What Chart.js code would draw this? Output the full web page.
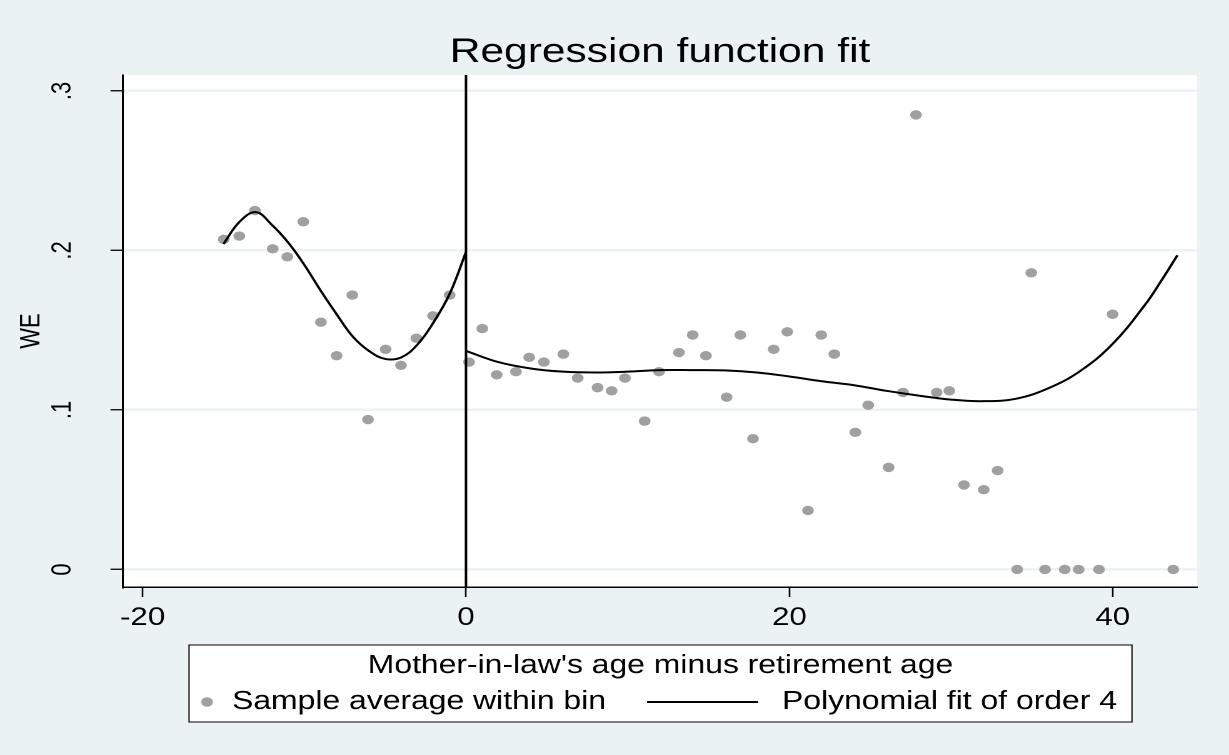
<!DOCTYPE html>
<html>
<head>
<meta charset="utf-8">
<title>Regression function fit</title>
<script src="https://cdn.jsdelivr.net/npm/chart.js@4.4.1/dist/chart.umd.min.js"></script>
<style>
  html, body { margin: 0; padding: 0; background: #eaf2f3; overflow: hidden; }
  /* the original graph is stretched sideways, so draw narrow and widen it */
  #wrap { width: 983px; height: 755px; transform: scaleX(1.250254); transform-origin: 0 0; }
</style>
</head>
<body>
<div id="wrap"><canvas id="rdChart" width="983" height="755"></canvas></div>
<script>
// bin averages (x = bin centre, y = WE)
const binX = [-14.98, -14.02, -13.05, -11.95, -11.05, -10.06, -8.97, -8.0, -7.03, -6.06, -4.97, -4.02, -3.07, -2.04, -1.01,
  0.19, 1.01, 1.9, 3.09, 3.91, 4.82, 6.02, 6.91, 8.14, 9.01, 9.83, 11.05, 11.94, 13.17, 14.02, 14.84, 16.12, 16.97, 17.75,
  19.03, 19.87, 21.15, 21.97, 22.78, 24.08, 24.88, 26.14, 27.03, 27.83, 29.11, 29.89, 30.8, 32.02, 32.88, 34.09, 34.96,
  35.81, 37.03, 37.89, 39.15, 39.99, 43.74];
const binY = [0.207, 0.209, 0.225, 0.201, 0.196, 0.218, 0.155, 0.134, 0.172, 0.094, 0.138, 0.128, 0.145, 0.159, 0.172,
  0.130, 0.151, 0.122, 0.124, 0.133, 0.130, 0.135, 0.120, 0.114, 0.112, 0.120, 0.093, 0.124, 0.136, 0.147, 0.134, 0.108,
  0.147, 0.082, 0.138, 0.149, 0.037, 0.147, 0.135, 0.086, 0.103, 0.064, 0.111, 0.285, 0.111, 0.112, 0.053, 0.050, 0.062,
  0, 0.186, 0, 0, 0, 0, 0.160, 0];

const fitLeftX = [-15, -14, -13, -12, -11, -10, -9, -8, -7, -6, -5, -4, -3, -2, -1, 0];
const fitLeftY = [0.204, 0.218, 0.224, 0.216, 0.205, 0.191, 0.175, 0.160, 0.146, 0.137, 0.132, 0.133, 0.141, 0.155, 0.173, 0.199];
const fitRightX = [0, 2, 4, 6, 8, 10, 12, 14, 16, 18, 20, 22, 24, 26, 28, 30, 32, 34, 36, 38, 40, 42, 43, 44];
const fitRightY = [0.137, 0.130, 0.126, 0.124, 0.1235, 0.124, 0.125, 0.125, 0.1248, 0.1235, 0.121, 0.118, 0.1155, 0.112,
  0.109, 0.1065, 0.1055, 0.107, 0.1135, 0.1245, 0.1415, 0.166, 0.181, 0.197];

const cutoff = 0;
const xTicks = [-20, 0, 20, 40];
const yTicks = [0, 0.1, 0.2, 0.3];
const yTickLabels = ['0', '.1', '.2', '.3'];
const xMin = -21.21, xMax = 45.21;
const yMin = -0.011, yMax = 0.310;

const FONT = '"Liberation Sans", Arial, Helvetica, sans-serif';
const DOT = '#a0a0a0';

function pairs(xs, ys) {
  return xs.map(function (x, i) { return { x: x, y: ys[i] }; });
}

// white plot region on the blue-grey graph region
const plotBackground = {
  id: 'plotBackground',
  beforeDraw(chart) {
    const a = chart.chartArea;
    const ctx = chart.ctx;
    ctx.save();
    ctx.fillStyle = '#ffffff';
    ctx.fillRect(a.left, a.top, a.right - a.left, a.bottom - a.top);
    ctx.restore();
  }
};

// Stata-style legend: boxed, with a title row and two keys
const legendBox = {
  id: 'legendBox',
  afterDraw(chart) {
    const ctx = chart.ctx;
    const left = 151.2, right = 905.4, top = 645, bottom = 722;
    const dots = chart.data.datasets[0];
    const fit = chart.data.datasets[1];
    ctx.save();
    ctx.fillStyle = '#ffffff';
    ctx.fillRect(left, top, right - left, bottom - top);
    ctx.strokeStyle = '#000000';
    ctx.lineWidth = 1;
    ctx.strokeRect(left, top, right - left, bottom - top);

    ctx.fillStyle = '#000000';
    ctx.font = '25.5px ' + FONT;
    ctx.textBaseline = 'middle';
    ctx.textAlign = 'center';
    ctx.fillText("Mother-in-law's age minus retirement age", (left + right) / 2, 666);

    const rowY = 702;
    ctx.beginPath();
    ctx.arc(165.6, rowY, dots.pointRadius, 0, Math.PI * 2);
    ctx.fillStyle = dots.backgroundColor;
    ctx.fill();

    ctx.beginPath();
    ctx.moveTo(517.5, rowY);
    ctx.lineTo(606.3, rowY);
    ctx.strokeStyle = fit.borderColor;
    ctx.lineWidth = fit.borderWidth;
    ctx.stroke();

    ctx.fillStyle = '#000000';
    ctx.textAlign = 'left';
    ctx.fillText(dots.label, 185.6, rowY);
    ctx.fillText(fit.label, 625.5, rowY);
    ctx.restore();
  }
};

new Chart(document.getElementById('rdChart'), {
  type: 'scatter',
  data: {
    datasets: [{
      label: 'Sample average within bin',
      data: pairs(binX, binY),
      pointRadius: 4.7,
      pointHoverRadius: 4.7,
      pointBorderWidth: 0,
      backgroundColor: DOT,
      borderColor: DOT,
      order: 2
    }, {
      type: 'line',
      label: 'Polynomial fit of order 4',
      data: pairs(fitLeftX, fitLeftY),
      borderColor: '#000000',
      borderWidth: 2,
      pointRadius: 0,
      fill: false,
      tension: 0.4,
      order: 1
    }, {
      type: 'line',
      label: 'fit right',
      data: pairs(fitRightX, fitRightY),
      borderColor: '#000000',
      borderWidth: 2,
      pointRadius: 0,
      fill: false,
      tension: 0.4,
      order: 1
    }, {
      type: 'line',
      label: 'cutoff',
      data: [{ x: cutoff, y: yMin }, { x: cutoff, y: yMax }],
      borderColor: '#000000',
      borderWidth: 2,
      pointRadius: 0,
      fill: false,
      order: 0
    }]
  },
  plugins: [plotBackground, legendBox],
  options: {
    responsive: false,
    animation: false,
    devicePixelRatio: 2,
    layout: { padding: { left: 0, right: 25.6, top: 0, bottom: 120 } },
    plugins: {
      legend: { display: false },
      tooltip: { enabled: false },
      title: {
        display: true,
        text: 'Regression function fit',
        color: '#000000',
        fullSize: false,
        font: { family: FONT, size: 34, weight: 'normal' },
        padding: { top: 32, bottom: 2.2 }
      }
    },
    scales: {
      x: {
        type: 'linear',
        min: xMin,
        max: xMax,
        afterBuildTicks: function (scale) {
          scale.ticks = xTicks.map(function (v) { return { value: v }; });
        },
        afterFit: function (scale) { scale.height = 48; },
        grid: { drawOnChartArea: false, tickLength: 10, tickColor: '#000000', tickWidth: 1.3 },
        border: { color: '#000000', width: 1.5 },
        ticks: {
          color: '#000000',
          font: { family: FONT, size: 25 },
          padding: 6,
          maxRotation: 0,
          autoSkip: false,
          callback: function (v) { return String(v); }
        }
      },
      y: {
        type: 'linear',
        min: yMin,
        max: yMax,
        afterBuildTicks: function (scale) {
          scale.ticks = yTicks.map(function (v) { return { value: v }; });
        },
        afterFit: function (scale) { scale.width = 98.4; },
        grid: { color: '#eaf2f3', lineWidth: 2.5, tickLength: 10, tickColor: '#000000', tickWidth: 1.3 },
        border: { color: '#000000', width: 1.5 },
        title: {
          display: true,
          text: 'WE',
          color: '#000000',
          font: { family: FONT, size: 22 },
          padding: { top: 12, bottom: 0 }
        },
        ticks: {
          color: '#000000',
          font: { family: FONT, size: 22 },
          minRotation: 90,
          maxRotation: 90,
          crossAlign: 'center',
          padding: 29,
          autoSkip: false,
          callback: function (v) {
            const i = yTicks.indexOf(v);
            return i >= 0 ? yTickLabels[i] : '';
          }
        }
      }
    }
  }
});
</script>
</body>
</html>
